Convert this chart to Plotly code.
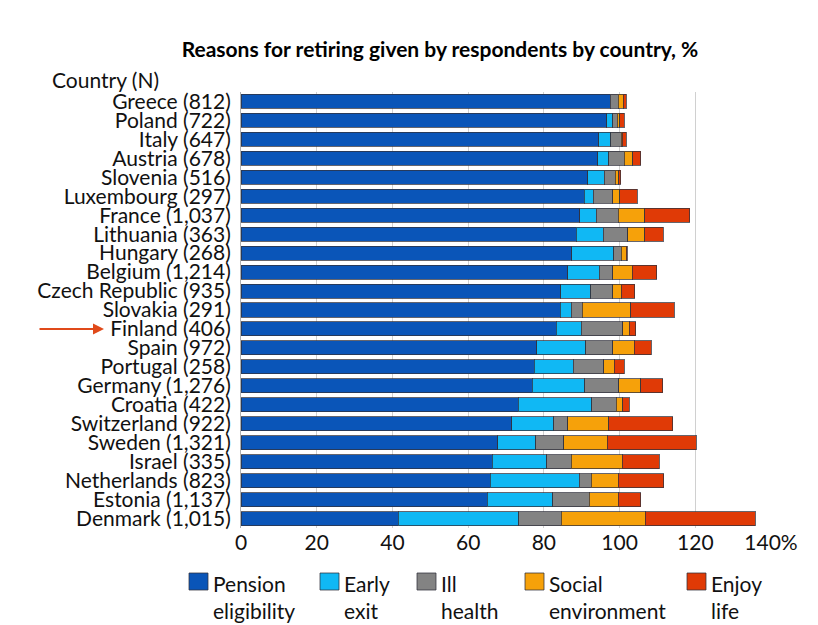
import plotly.graph_objects as go

countries = ["Greece (812)", "Poland (722)", "Italy (647)", "Austria (678)", "Slovenia (516)",
             "Luxembourg (297)", "France (1,037)", "Lithuania (363)", "Hungary (268)",
             "Belgium (1,214)", "Czech Republic (935)", "Slovakia (291)", "Finland (406)",
             "Spain (972)", "Portugal (258)", "Germany (1,276)", "Croatia (422)",
             "Switzerland (922)", "Sweden (1,321)", "Israel (335)", "Netherlands (823)",
             "Estonia (1,137)", "Denmark (1,015)"]

pension = [97.5, 96.6, 94.5, 94.3, 91.6, 90.7, 89.5, 88.5, 87.4, 86.3, 84.4, 84.3, 83.3,
           78.1, 77.4, 76.9, 73.2, 71.5, 67.8, 66.4, 65.8, 65.0, 41.6]
early = [0.0, 1.6, 3.2, 2.8, 4.4, 2.4, 4.3, 7.2, 11.1, 8.3, 8.0, 2.9, 6.6,
         12.9, 10.4, 13.9, 19.5, 11.1, 10.1, 14.3, 23.6, 17.4, 31.8]
ill = [2.2, 1.2, 2.7, 4.1, 2.9, 5.1, 5.8, 6.5, 2.0, 3.6, 5.8, 2.9, 11.0,
       7.2, 8.0, 9.0, 6.4, 3.7, 7.3, 6.6, 3.1, 9.6, 11.2]
social = [1.3, 0.7, 0.3, 2.3, 0.9, 1.9, 7.1, 4.5, 1.3, 5.2, 2.3, 12.8, 1.6,
          5.7, 2.8, 5.8, 1.8, 10.9, 11.5, 13.4, 7.1, 7.7, 22.2]
enjoy = [0.8, 1.1, 1.1, 2.1, 0.5, 4.6, 11.8, 4.8, 0.2, 6.4, 3.5, 11.5, 1.8,
         4.5, 2.7, 5.8, 1.7, 16.9, 23.6, 9.8, 12.1, 5.9, 29.0]

series_names = ["Pension<br>eligibility", "Early<br>exit", "Ill<br>health",
                "Social<br>environment", "Enjoy<br>life"]
series_values = [pension, early, ill, social, enjoy]
series_colors = ["#0a55b8", "#10b8f4", "#838383", "#f6a10a", "#e03a06"]

tickvals = [0, 20, 40, 60, 80, 100, 120, 140]
ticktext = ["0", "20", "40", "60", "80", "100", "120", "140%"]

FONT = "Lato"
OUTLINE = "rgba(50,50,60,0.75)"

# plot area in pixels
L, R, T, B = 241, 771, 92, 528
W, H = 818, 625


def px_x(x):
    return (x - L) / (R - L)


def px_y(y):
    return (B - y) / (B - T)


fig = go.Figure()
for name, vals, color in zip(series_names, series_values, series_colors):
    fig.add_trace(go.Bar(
        y=countries, x=vals, name=name, orientation="h",
        marker=dict(color=color, line=dict(color=OUTLINE, width=1)),
        showlegend=False,
    ))

fig.update_layout(
    barmode="stack",
    bargap=0.26,
    width=W, height=H,
    margin=dict(l=L, r=W - R, t=T, b=H - B),
    plot_bgcolor="white", paper_bgcolor="white",
    font=dict(family=FONT, size=21, color="#111111"),
    title=dict(text="<b>Reasons for retiring given by respondents by country, %</b>",
               x=440 / W, xanchor="center", y=1 - 50 / H, yanchor="middle",
               font=dict(family=FONT, size=21, color="#000000")),
    xaxis=dict(range=[0, 140], tickvals=tickvals, ticktext=ticktext,
               showgrid=True, gridcolor="#d0d0d0", gridwidth=1,
               zeroline=False, showline=False, ticks="",
               tickfont=dict(size=21)),
    yaxis=dict(autorange="reversed", showline=True, linecolor="#b0b0b0",
               tickmode="array", tickvals=countries, ticktext=countries,
               ticks="", ticklabelstandoff=5, tickfont=dict(size=21)),
    showlegend=False,
)

fig.add_annotation(text="Country (N)", xref="paper", yref="paper",
                   x=px_x(105), y=px_y(80), xanchor="center", yanchor="middle",
                   showarrow=False, font=dict(size=21, family=FONT))

fig.add_annotation(x=px_x(104), y="Finland (406)", xref="paper", yref="y",
                   ax=-66, ay=0, text="", showarrow=True,
                   arrowhead=2, arrowsize=1.1, arrowwidth=2, arrowcolor="#e04a1a")

# manual legend
legend_x = [189, 320, 417, 525, 687]
for name, color, lx in zip(series_names, series_colors, legend_x):
    fig.add_shape(type="rect", xref="paper", yref="paper",
                  x0=px_x(lx), x1=px_x(lx + 19), y0=px_y(590), y1=px_y(573),
                  fillcolor=color, line=dict(color=OUTLINE, width=1))
    fig.add_annotation(text=name, xref="paper", yref="paper",
                       x=px_x(lx + 22), y=px_y(569), xanchor="left", yanchor="top",
                       align="left", showarrow=False,
                       font=dict(size=21, family=FONT, color="#111111"))

fig.write_html("out.html")
